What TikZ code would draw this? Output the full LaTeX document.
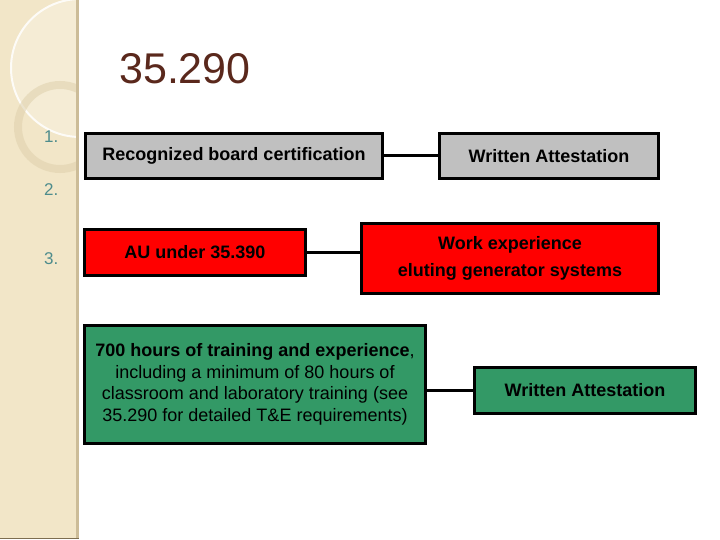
\documentclass[tikz,border=0pt]{standalone}
\usepackage{fontspec}
\setmainfont{Liberation Sans}
\usetikzlibrary{calc,positioning}
\definecolor{stripbeige}{RGB}{242,230,200}
\definecolor{stripedge}{RGB}{204,188,152}
\definecolor{stripdark}{RGB}{125,110,80}
\definecolor{ringtan}{RGB}{222,208,172}
\definecolor{titlebrown}{RGB}{90,40,28}
\definecolor{listteal}{RGB}{78,140,140}
\definecolor{boardgray}{RGB}{192,192,192}
\definecolor{flagred}{RGB}{255,0,0}
\definecolor{tegreen}{RGB}{51,153,102}
\tikzset{
  box/.style={draw=black,line width=2.8pt,inner sep=0pt,outer sep=0pt,
    align=center,font=\bfseries\fontsize{18}{21}\selectfont},
  graybox/.style={box,fill=boardgray},
  redbox/.style={box,fill=flagred,font=\bfseries\fontsize{18}{27}\selectfont},
  greenbox/.style={box,fill=tegreen},
  link/.style={draw=black,line width=3pt},
  listnum/.style={text=listteal,font=\fontsize{17}{19}\selectfont,
    anchor=base west,inner sep=0pt}
}

\begin{document}
\begin{tikzpicture}[x=1pt,y=-1pt]
  \useasboundingbox (0,0) rectangle (720,540);
  % Franja lateral con los arcos decorativos.
  \fill[stripbeige] (0,0) rectangle (78,538);
  \begin{scope}
    \clip (0,0) rectangle (77,538);
    \fill[white,opacity=0.25] (80,68) circle[radius=69];
    \draw[white,opacity=0.85,line width=2pt] (80,68) circle[radius=69];
    \draw[ringtan,opacity=0.55,line width=8pt] (60,127) circle[radius=42];
  \end{scope}
  \draw[stripedge,line width=2.5pt] (77.5,0) -- (77.5,538);
  \draw[stripdark,line width=1.5pt] (0,538.5) -- (79,538.5);

  \node[anchor=base west,inner sep=0pt,text=titlebrown,
    font=\fontsize{43}{50}\selectfont] (title) at (119,84) {35.290};

  \node[listnum] (num1) at (44,143) {1.};
  \node[listnum] (num2) at (44,196) {2.};
  \node[listnum] (num3) at (44,264) {3.};

  \node[graybox,minimum width=297.4pt,minimum height=45.4pt] (cert) at (234,156)
    {Recognized board certification};
  \node[graybox,minimum width=219.4pt,minimum height=45.4pt] (attestA) at (549,156)
    {Written Attestation};

  \node[redbox,minimum width=221.4pt,minimum height=46.4pt] (au) at (195,252.5)
    {AU under 35.390};
  \node[redbox,minimum width=297.4pt,minimum height=70.4pt] (workexp) at (510,258.5)
    {Work experience\\eluting generator systems};

  \node[greenbox,font=\fontsize{18}{21.5}\selectfont,
    minimum width=341.4pt,minimum height=118.4pt] (training) at (255,384.5)
    {{\bfseries 700 hours of training and experience},\\including a minimum of 80 hours of\\classroom and laboratory training (see\\35.290 for detailed T\&E requirements)};
  \node[greenbox,minimum width=221.4pt,minimum height=46.4pt] (attestB) at (585,390.5)
    {Written Attestation};

  \draw[link] (cert) -- (attestA);
  \draw[link] (au) -- (au -| workexp.west);
  \draw[link] (attestB) -- (attestB -| training.east);
\end{tikzpicture}
\end{document}
